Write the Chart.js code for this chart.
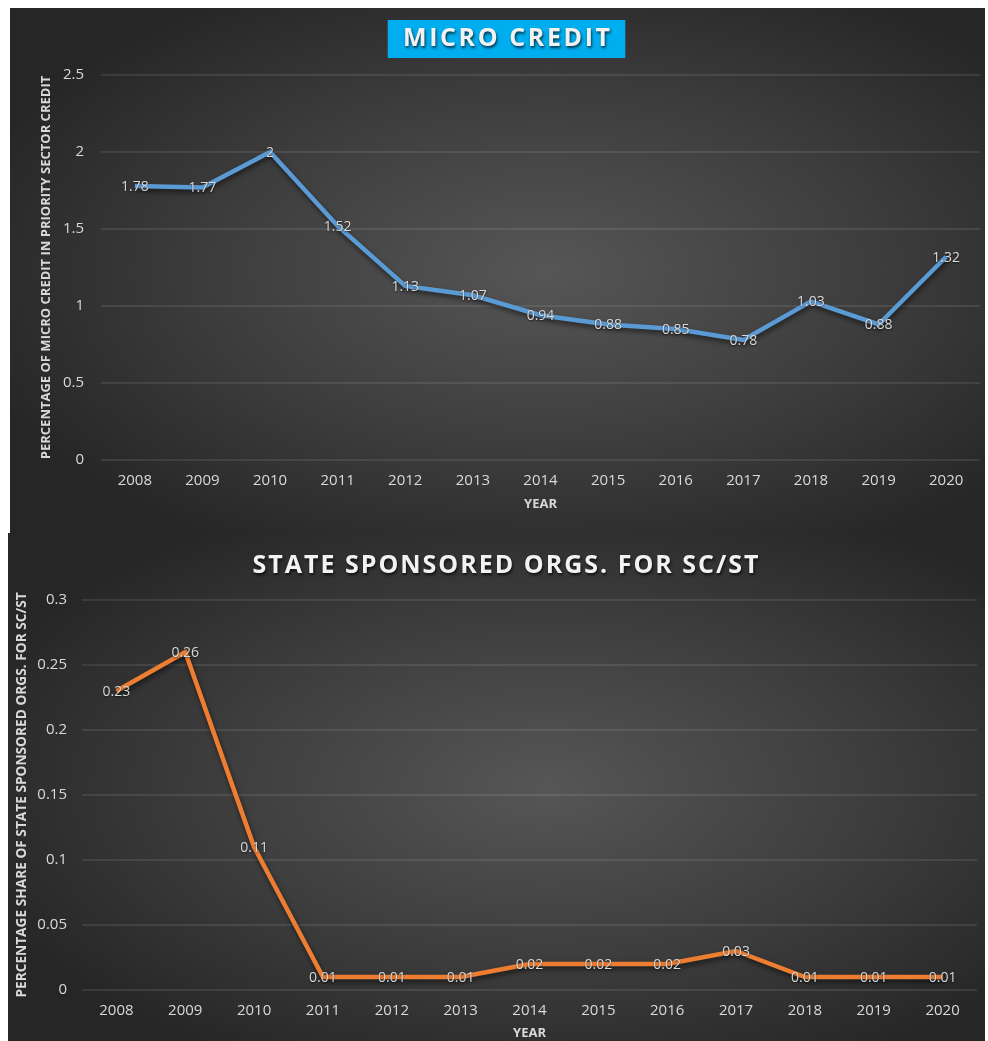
<!DOCTYPE html>
<html>
<head>
<meta charset="utf-8">
<script src="https://cdn.jsdelivr.net/npm/chart.js@4.4.1/dist/chart.umd.min.js"></script>
<style>
  body { margin: 0; background: #fff; width: 988px; height: 1041px; position: relative; overflow: hidden; }
  .panel { position: absolute; background: radial-gradient(ellipse 62% 62% at 55% 50%, #565656 0%, #3d3d3d 55%, #262626 100%); }
  #microPanel { left: 10px; top: 8px; width: 975px; height: 525px; }
  #scstPanel { left: 8px; top: 533px; width: 977px; height: 508px; }
  canvas { display: block; }
</style>
</head>
<body>
<div class="panel" id="microPanel"><canvas id="microChart" width="975" height="525"></canvas></div>
<div class="panel" id="scstPanel"><canvas id="scstChart" width="977" height="508"></canvas></div>
<script>
const years = ['2008', '2009', '2010', '2011', '2012', '2013', '2014', '2015', '2016', '2017', '2018', '2019', '2020'];
const microCredit = [1.78, 1.77, 2, 1.52, 1.13, 1.07, 0.94, 0.88, 0.85, 0.78, 1.03, 0.88, 1.32];
const scstShare = [0.23, 0.26, 0.11, 0.01, 0.01, 0.01, 0.02, 0.02, 0.02, 0.03, 0.01, 0.01, 0.01];
const microTicks = [0, 0.5, 1, 1.5, 2, 2.5];
const scstTicks = [0, 0.05, 0.1, 0.15, 0.2, 0.25, 0.3];

const FONT = '"Open Sans", "DejaVu Sans", sans-serif';
const TEXT = '#d9d9d9';

// value printed over every point
const pointLabels = {
  id: 'pointLabels',
  afterDatasetsDraw(chart) {
    const ctx = chart.ctx;
    ctx.save();
    ctx.font = '14px ' + FONT;
    ctx.fillStyle = TEXT;
    ctx.textAlign = 'center';
    ctx.textBaseline = 'middle';
    ctx.shadowColor = 'rgba(0,0,0,0.6)';
    ctx.shadowBlur = 2;
    ctx.shadowOffsetY = 1;
    chart.data.datasets.forEach((ds, i) => {
      chart.getDatasetMeta(i).data.forEach((pt, j) => {
        ctx.fillText(String(ds.data[j]), pt.x, pt.y + 1);
      });
    });
    ctx.restore();
  }
};

// soft drop shadow under the line
const lineShadow = {
  id: 'lineShadow',
  beforeDatasetDraw(chart) {
    const ctx = chart.ctx;
    ctx.save();
    ctx.shadowColor = 'rgba(0,0,0,0.55)';
    ctx.shadowBlur = 5;
    ctx.shadowOffsetX = 1;
    ctx.shadowOffsetY = 3;
  },
  afterDatasetDraw(chart) {
    chart.ctx.restore();
  }
};

// spaced-out heading, optionally on a coloured box
const banner = {
  id: 'banner',
  afterDraw(chart, args, opts) {
    const ctx = chart.ctx;
    ctx.save();
    ctx.font = 'bold ' + opts.size + 'px ' + FONT;
    ctx.letterSpacing = opts.spacing + 'px';
    const x = chart.width / 2 + opts.shift;
    const w = ctx.measureText(opts.text).width;
    if (opts.box) {
      ctx.fillStyle = opts.box;
      ctx.fillRect(x - w / 2 - opts.boxPad, opts.y - opts.boxH / 2, w + opts.boxPad * 2, opts.boxH);
    }
    ctx.shadowColor = 'rgba(0,0,0,0.7)';
    ctx.shadowBlur = 3;
    ctx.shadowOffsetX = 1;
    ctx.shadowOffsetY = 2;
    ctx.fillStyle = '#f2f2f2';
    ctx.textAlign = 'center';
    ctx.textBaseline = 'middle';
    ctx.fillText(opts.text, x + opts.spacing / 2, opts.y);
    ctx.restore();
  }
};

function makeChart(id, values, color, ticks, yTitle, o) {
  const ctx = document.getElementById(id).getContext('2d');
  return new Chart(ctx, {
    type: 'line',
    data: {
      labels: years,
      datasets: [{
        data: values,
        borderColor: color,
        borderWidth: 4.5,
        pointRadius: 0,
        tension: 0,
        fill: false
      }]
    },
    options: {
      responsive: false,
      animation: false,
      layout: { padding: { top: o.top, right: o.right, left: 0, bottom: 0 } },
      plugins: {
        legend: { display: false },
        tooltip: { enabled: false },
        banner: o.banner
      },
      scales: {
        x: {
          offset: true,
          grid: { display: false },
          border: { display: false },
          ticks: { color: TEXT, font: { family: FONT, size: 15 }, padding: o.xPad, maxRotation: 0 },
          title: { display: true, text: 'YEAR', color: TEXT, font: { family: FONT, size: 13, weight: 'bold' }, padding: { top: 0, bottom: o.xTitlePad } },
          afterFit(s) { s.height = o.xHeight; }
        },
        y: {
          min: ticks[0],
          max: ticks[ticks.length - 1],
          afterBuildTicks(s) { s.ticks = ticks.map(v => ({ value: v })); },
          grid: { color: 'rgba(255,255,255,0.09)', lineWidth: 2, drawTicks: false },
          border: { display: false },
          ticks: { color: TEXT, font: { family: FONT, size: 15 }, padding: o.yPad, callback: v => String(v) },
          title: { display: true, text: yTitle, color: TEXT, font: { family: FONT, size: o.yTitleSize, weight: 'bold' }, padding: { top: o.yTitlePad, bottom: 0 } },
          afterFit(s) { s.width = o.yWidth; }
        }
      }
    },
    plugins: [lineShadow, pointLabels, banner]
  });
}

makeChart('microChart', microCredit, '#5B9BD5', microTicks,
  'PERCENTAGE OF MICRO CREDIT IN PRIORITY SECTOR CREDIT', {
    top: 67, right: 5, yWidth: 91, xHeight: 73, xPad: 4, xTitlePad: 21, yPad: 17, yTitlePad: 28, yTitleSize: 13,
    banner: { text: 'MICRO CREDIT', size: 25, spacing: 2.6, shift: 9, y: 31, box: '#00AEEF', boxPad: 14, boxH: 38 }
  });

makeChart('scstChart', scstShare, '#ED7D31', scstTicks,
  'PERCENTAGE SHARE OF STATE SPONSORED ORGS. FOR SC/ST', {
    top: 67, right: 8, yWidth: 74, xHeight: 51, xPad: 4, xTitlePad: 0, yPad: 15, yTitlePad: 6, yTitleSize: 13.7,
    banner: { text: 'STATE SPONSORED ORGS. FOR SC/ST', size: 25, spacing: 2, shift: 9, y: 33, box: null }
  });
</script>
</body>
</html>
